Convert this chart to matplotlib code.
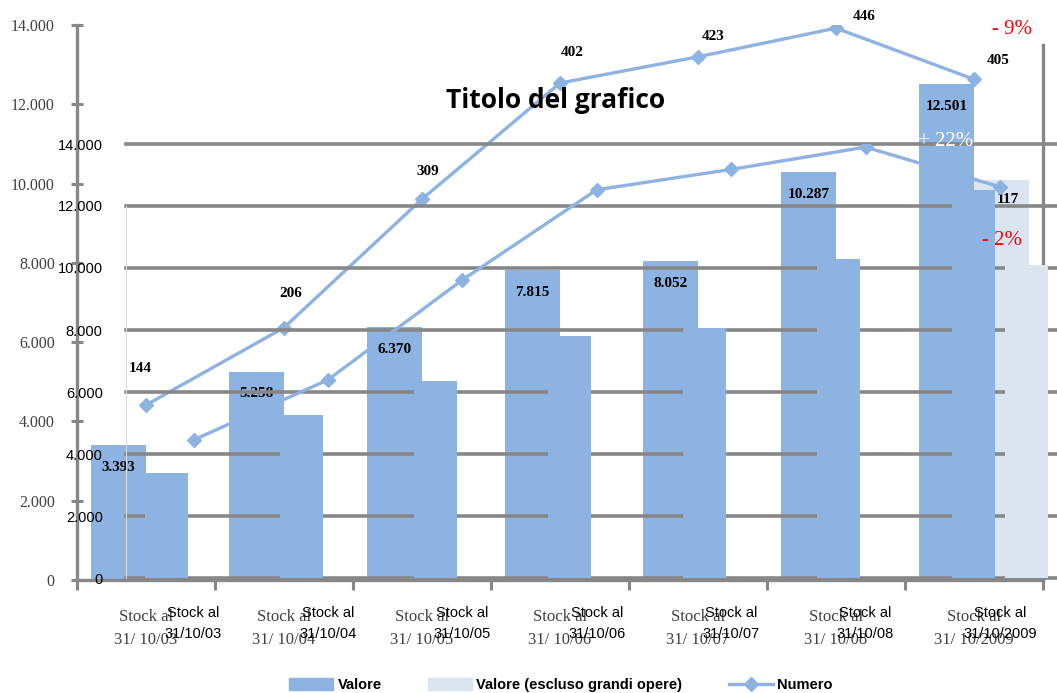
import numpy as np
import matplotlib.pyplot as plt
from matplotlib.patches import Patch
from matplotlib.lines import Line2D

# dati
categorie = ["31/10/03", "31/10/04", "31/10/05", "31/10/06", "31/10/07", "31/10/08", "31/10/2009"]
valore = [3393, 5258, 6370, 7815, 8052, 10287, 12501]
valore_escluso = [0, 0, 0, 0, 0, 0, 10100]
numero = [144, 206, 309, 402, 423, 446, 405]
assi_y = [0, 2000, 4000, 6000, 8000, 10000, 12000, 14000]

# spostamenti delle etichette del numero (pixel)
off_numero = [(-6, 37), (7, 34), (6, 28), (12, 31), (15, 20), (28, 12), (24, 19)]

BLU = "#8db3e2"
CELESTE = "#dbe5f1"
GRIGIO = "#878787"
W, H = 1057, 693


def px(x, y):
    return x / W, 1 - y / H


def fmt(v):
    return f"{v:,}".replace(",", ".")


fig = plt.figure(figsize=(W / 100, H / 100), dpi=100)
x = np.arange(len(categorie))
etichette_a = ["Stock al\n" + c.replace("/", "/ ", 1) for c in categorie]
etichette_b = ["Stock al\n" + c for c in categorie]

# ---- grafico dietro ----
A = fig.add_axes([77 / W, 1 - 580 / H, 966 / W, 555 / H])
A.set_zorder(1)
A.bar(x - 0.2, valore, 0.4, color=BLU, zorder=2)
A.bar(x + 0.2, valore_escluso, 0.4, color=CELESTE, zorder=2)
A.set_xlim(-0.5, 6.5)
A.set_ylim(0, 14000)
A.spines["top"].set_visible(False)
A.spines["right"].set_bounds(0, 13495)
for s in ["left", "bottom", "right"]:
    A.spines[s].set_color(GRIGIO)
    A.spines[s].set_linewidth(2.4)
A.set_yticks(assi_y)
A.set_yticklabels([fmt(v) for v in assi_y], family="Liberation Serif", fontsize=11.5, color="#404040")
A.tick_params(axis="y", direction="inout", length=8, width=2.2, color=GRIGIO, pad=12)
A.tick_params(axis="y", right=False)
A.set_xticks(x)
A.set_xticklabels(etichette_a, family="Liberation Serif", fontsize=12, color="#404040", linespacing=1.6)
A.tick_params(axis="x", length=0, pad=21)
A.set_xticks(np.arange(-0.5, 7, 1), minor=True)
A.tick_params(axis="x", which="minor", direction="out", length=7, width=2.2, color=GRIGIO)
for xi, v in zip(x, valore):
    A.annotate(fmt(v), (xi - 0.2, v), xytext=(0, -16), textcoords="offset points",
               ha="center", va="center", fontsize=11, fontweight="bold",
               family="Liberation Serif", zorder=5)

A2 = A.twinx()
A2.set_zorder(2)
A2.plot(x, numero, color=BLU, lw=2.4, marker="D", ms=7)
A2.set_ylim(3.8, 448.5)
A2.axis("off")
for xi, v, (dx, dy) in zip(x, numero, off_numero):
    A2.annotate(str(v), (xi, v), xytext=(dx * 0.72, dy * 0.72), textcoords="offset points",
                ha="center", va="center", fontsize=11, fontweight="bold",
                family="Liberation Serif")

# ---- grafico davanti ----
B = fig.add_axes([126.3 / W, 1 - 578 / H, 940.8 / W, 434 / H])
B.set_zorder(3)
B.patch.set_alpha(0)
B.set_axisbelow(True)
B.bar(x - 0.2, valore, 0.32, color=BLU)
B.bar(x + 0.2, valore_escluso, 0.32, color=CELESTE)
B.set_xlim(-0.5, 6.5)
B.set_ylim(0, 14000)
B.set_yticks(assi_y)
B.set_yticklabels([fmt(v) for v in assi_y], family="Liberation Sans", fontsize=10.5, color="black")
B.yaxis.grid(True, color=GRIGIO, lw=2.6)
for gl in B.get_ygridlines():
    gl.set_clip_on(False)
B.tick_params(axis="y", length=0, pad=17)
B.set_xticks(x)
B.set_xticklabels(etichette_b, family="Liberation Sans", fontsize=10.5, color="black", linespacing=1.65)
B.tick_params(axis="x", length=0, pad=20)
for s in ["top", "right", "bottom"]:
    B.spines[s].set_visible(False)
B.spines["left"].set_color("#d9d9d9")
B.spines["left"].set_linewidth(0.8)
B.spines["left"].set_bounds(0, 12000)

B2 = B.twinx()
B2.set_zorder(4)
B2.plot(x, numero, color=BLU, lw=2.4, marker="D", ms=7)
B2.set_ylim(1.7, 449.2)
B2.axis("off")

# testi
fig.text(*px(556, 100), "Titolo del grafico", ha="center", va="center",
         fontsize=19, fontweight="bold", family="Open Sans", zorder=10)
fig.text(*px(1012, 30), "- 9%", ha="center", va="center", color="red",
         fontsize=15, family="Liberation Serif", zorder=10)
fig.text(*px(946, 141), "+ 22%", ha="center", va="center", color="white",
         fontsize=15, family="Liberation Serif", zorder=10)
fig.text(*px(1002, 240), "- 2%", ha="center", va="center", color="red",
         fontsize=15, family="Liberation Serif", zorder=10)
fig.text(*px(1008, 200), "117", ha="center", va="center", fontsize=11,
         fontweight="bold", family="Liberation Serif", zorder=2)

maniglie = [Patch(color=BLU), Patch(color=CELESTE),
            Line2D([], [], color=BLU, lw=2.4, marker="D", ms=7)]
fig.legend(maniglie, ["Valore", "Valore (escluso grandi opere)", "Numero"],
           loc="center", bbox_to_anchor=px(561, 685), ncol=3, frameon=False,
           prop={"family": "Liberation Sans", "weight": "bold", "size": 10.5},
           handlelength=3, handleheight=0.9, columnspacing=3.2, handletextpad=0.3)

fig.savefig("out.png", dpi=100)
